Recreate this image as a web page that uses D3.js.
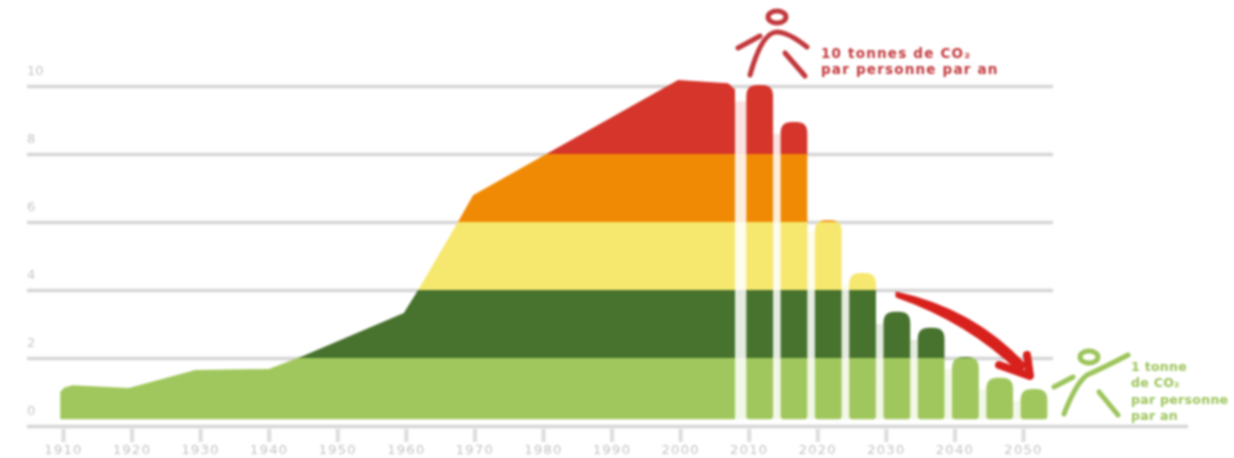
<!DOCTYPE html>
<html>
<head>
<meta charset="utf-8">
<script src="https://cdn.jsdelivr.net/npm/d3@7"></script>
<style>
  html, body { margin: 0; padding: 0; background: #fff; overflow: hidden; }
  svg { display: block; filter: blur(0.8px); font-family: "DejaVu Sans", sans-serif; }
</style>
</head>
<body>
<div id="chart"></div>
<script>
// historic emissions, tonnes of CO2 per person per year
var areaYears  = [1909.6, 1910.2, 1911.4, 1919.6, 1929.3, 1940, 1945, 1959.7, 1961.8, 1967.6, 1969.8, 1999.7, 2007, 2008];
var areaValues = [1.0, 1.13, 1.2, 1.12, 1.65, 1.68, 2.06, 3.32, 4.0, 6.0, 6.79, 10.18, 10.08, 9.9];

// projected bars (centre year of each bar)
var barYears  = [2011.6, 2016.6, 2021.6, 2026.6, 2031.6, 2036.6, 2041.6, 2046.6, 2051.6];
var barValues = [10.03, 8.94, 6.05, 4.5, 3.36, 2.89, 2.03, 1.42, 1.09];

// colour bands
var bandEdges  = [0, 2, 4, 6, 8, 11];
var bandColors = ["#a0c75d", "#47732e", "#f6e76e", "#f08a05", "#d5352a"];

var xTicks = [1910, 1920, 1930, 1940, 1950, 1960, 1970, 1980, 1990, 2000, 2010, 2020, 2030, 2040, 2050];
var yTicks = [0, 2, 4, 6, 8, 10];

var width = 1234, height = 458;
var floorValue = 0.2;      // marks stop a little above the baseline
var barSpan = 3.9;         // bar width in years
var gridLeft = 27, gridRight = 1053, baselineRight = 1188;

var svg = d3.select("#chart").append("svg")
  .attr("width", width)
  .attr("height", height);

var x = d3.scaleLinear().domain([1910, 2050]).range([63, 1023]);
var y = d3.scaleLinear().domain([0, 10]).range([426, 86]);

/** Grid lines and y labels */
var yAxis = svg.append("g")
  .attr("transform", "translate(" + gridLeft + ",0)")
  .call(d3.axisRight(y).tickValues(yTicks).tickSize(gridRight - gridLeft));
yAxis.select(".domain").remove();
yAxis.selectAll("line")
  .attr("stroke", "#d6d6d6")
  .attr("stroke-width", 3.5)
  .attr("x2", function(d) { return d === 0 ? baselineRight - gridLeft : gridRight - gridLeft; });
yAxis.selectAll("text")
  .attr("x", 0)
  .attr("dy", "-0.9em")
  .attr("text-anchor", "start")
  .attr("fill", "#c6c6c6")
  .style("font-family", "'DejaVu Sans', sans-serif")
  .style("font-size", "13px");

/** X ticks and labels */
var xAxis = svg.append("g")
  .attr("transform", "translate(0,429)")
  .call(d3.axisBottom(x).tickValues(xTicks).tickFormat(d3.format("d")).tickSize(13).tickPadding(3));
xAxis.select(".domain").remove();
xAxis.selectAll("line").attr("stroke", "#dcdcdc").attr("stroke-width", 4);
xAxis.selectAll("text")
  .attr("fill", "#c2c2c2")
  .style("font-family", "'DejaVu Sans', sans-serif")
  .style("font-size", "13px")
  .style("letter-spacing", "1.3px");

/** Rounded top bar outline */
function barPath(year, value)
{
  var left = x(year - barSpan / 2), right = x(year + barSpan / 2);
  var top = y(value), bottom = y(floorValue);
  var r = 11, b = 3;
  var p = d3.path();
  p.moveTo(left, bottom - b);
  p.lineTo(left, top + r);
  p.quadraticCurveTo(left, top, left + r, top);
  p.lineTo(right - r, top);
  p.quadraticCurveTo(right, top, right, top + r);
  p.lineTo(right, bottom - b);
  p.quadraticCurveTo(right, bottom, right - b, bottom);
  p.lineTo(left + b, bottom);
  p.quadraticCurveTo(left, bottom, left, bottom - b);
  p.closePath();
  return p.toString();
}

var areaGen = d3.area()
  .x(function(d, i) { return x(areaYears[i]); })
  .y0(y(floorValue))
  .y1(function(d) { return y(d); });

var clip = svg.append("clipPath").attr("id", "marks");
clip.append("path").attr("d", areaGen(areaValues));
barYears.forEach(function(year, i) {
  clip.append("path").attr("d", barPath(year, barValues[i]));
});

/** Pale slits between neighbouring marks, they hide the grid lines */
var gapInset = 12;
var gapLefts = [areaYears[areaYears.length - 1]].concat(barYears.slice(0, -1).map(function(d) { return d + barSpan / 2; }));
var gapTops = [Math.min(areaValues[areaValues.length - 1], barValues[0])].concat(barValues.slice(1));
var gapRights = barYears.map(function(d) { return d - barSpan / 2; });
gapLefts.forEach(function(left, i) {
  var topPx = y(gapTops[i]) + gapInset;
  svg.append("rect")
    .attr("x", x(left))
    .attr("width", x(gapRights[i]) - x(left))
    .attr("y", topPx)
    .attr("height", y(floorValue) - topPx)
    .attr("fill", "#fff");
  bandColors.forEach(function(color, b) {
    var upper = Math.max(y(bandEdges[b + 1]), topPx);
    var lower = y(Math.max(bandEdges[b], floorValue));
    if(lower <= upper) return;
    svg.append("rect")
      .attr("x", x(left))
      .attr("width", x(gapRights[i]) - x(left))
      .attr("y", upper)
      .attr("height", lower - upper)
      .attr("fill", color)
      .attr("opacity", 0.14);
  });
});

/** Colour bands, cut to the shape of the area and the bars */
svg.append("g")
  .attr("clip-path", "url(#marks)")
  .selectAll("rect")
  .data(bandColors)
  .enter().append("rect")
    .attr("x", x(1905))
    .attr("width", x(2056) - x(1905))
    .attr("y", function(d, i) { return y(bandEdges[i + 1]); })
    .attr("height", function(d, i) { return y(bandEdges[i]) - y(bandEdges[i + 1]); })
    .attr("fill", function(d) { return d; });

/** Walking figure: head, body with far arm, near arm, leg */
function drawPerson(color, head, body, arm, leg)
{
  var g = svg.append("g")
    .attr("fill", "none")
    .attr("stroke", color)
    .attr("stroke-width", 5)
    .attr("stroke-linecap", "round");
  g.append("ellipse").attr("cx", head[0]).attr("cy", head[1]).attr("rx", 9).attr("ry", 6);
  g.append("path").attr("d", body);
  g.append("path").attr("d", arm);
  g.append("path").attr("d", leg);
}
drawPerson("#c2383c", [777, 17],
  "M750,75 Q762,32 777,32 Q788,32 807,47",
  "M738,48 L760,36",
  "M785,53 L805,76");
drawPerson("#9cc45a", [1089, 357],
  "M1064,414 Q1076,383 1087,375 Q1105,367 1128,355",
  "M1054,387 L1073,377",
  "M1099,392 L1118,415");

/** Annotations */
var redLabel = ["10 tonnes de CO\u2082", "par personne par an"];
var greenLabel = ["1 tonne", "de CO\u2082", "par personne", "par an"];
svg.selectAll(".redLabel").data(redLabel).enter().append("text")
  .attr("class", "redLabel")
  .attr("x", 821)
  .attr("y", function(d, i) { return 58 + i * 16; })
  .attr("fill", "#c2383c")
  .style("font-size", "13.5px")
  .style("font-weight", 700)
  .style("letter-spacing", "1.2px")
  .text(function(d) { return d; });
svg.selectAll(".greenLabel").data(greenLabel).enter().append("text")
  .attr("class", "greenLabel")
  .attr("x", 1131)
  .attr("y", function(d, i) { return 370.5 + i * 16.5; })
  .attr("fill", "#9cc45a")
  .style("font-size", "12.5px")
  .style("font-weight", 700)
  .style("letter-spacing", "0.3px")
  .text(function(d) { return d; });

/** Red arrow from the 4 t level down to the 1 t level */
var arrow = svg.append("g").attr("fill", "#d8201c").attr("stroke", "#d8201c");
arrow.append("path")
  .attr("d", "M896,292 Q975,309 1027,366 L1019,372 Q968,322 896,297 Z")
  .attr("stroke-width", 1)
  .attr("stroke-linejoin", "round");
arrow.append("path")
  .attr("d", "M999,365 L1030,376 L1027,355")
  .attr("fill", "none")
  .attr("stroke-width", 8)
  .attr("stroke-linecap", "round")
  .attr("stroke-linejoin", "round");
</script>
</body>
</html>
